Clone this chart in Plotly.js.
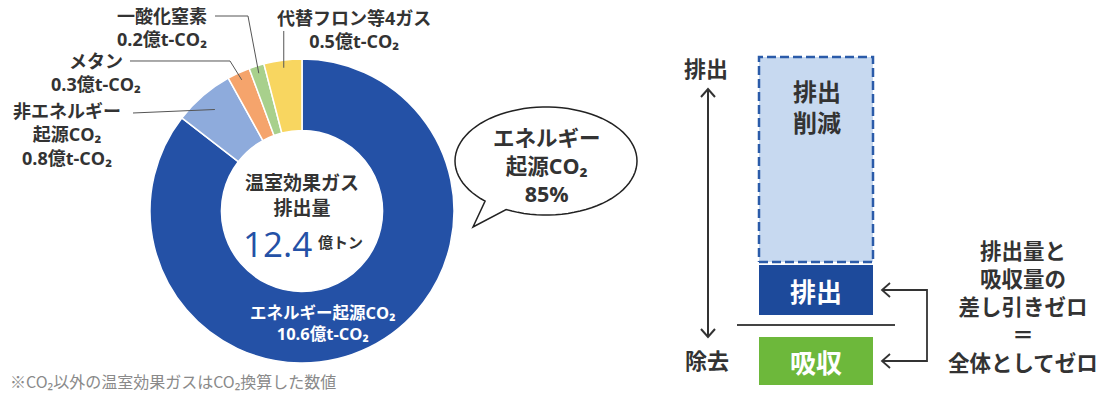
<!DOCTYPE html>
<html><head><meta charset="utf-8">
<script src="https://cdn.plot.ly/plotly-3.0.1.min.js"></script>
<style>html,body{margin:0;padding:0;background:#fff;}#chart{width:1117px;height:394px;}</style>
</head><body><div id="chart"></div>
<script>
// ---------- data ----------
const gasNames = ['エネルギー起源CO₂', '非エネルギー起源CO₂', 'メタン', '一酸化窒素', '代替フロン等4ガス'];
const gasValues = [10.6, 0.8, 0.3, 0.2, 0.5];
const unitLabel = '億t-CO₂';
const totalUnit = '億トン';
const diagramParts = ['排出削減', '排出', '吸収'];
const diagramValues = [4.1, 1.0, 0.96];
const conclusionLines = ['排出量と', '吸収量の', '差し引きゼロ', '＝', '全体としてゼロ'];
const axisEnds = ['排出', '除去'];
const footnote = '※CO₂以外の温室効果ガスはCO₂換算した数値';

// ---------- style ----------
const W = 1117, H = 394;
const FONT = '"Noto Sans CJK JP", "Noto Sans", sans-serif';
const FONT_MIX = '"Open Sans", "Noto Sans CJK JP", sans-serif';
const TXT = '#333333';
const gasColors = ['#2451a6', '#8eabdc', '#f5a46c', '#a8d08c', '#f8d660'];
const px = x => x / W, py = y => 1 - y / H;
const pt = (x, y) => px(x).toFixed(5) + ',' + py(y).toFixed(5);

const total = gasValues.reduce((a, b) => a + b, 0);
const share = Math.round(gasValues[0] / total * 100);
const fmt = v => v.toFixed(1) + unitLabel;

// pie geometry (pixels)
const CX = 302, CY = 211, R = 152;
const pie = {
  type: 'pie', values: gasValues, labels: gasNames, sort: false, direction: 'clockwise', rotation: 0,
  hole: 0.53, textinfo: 'none', hoverinfo: 'none', showlegend: false,
  marker: { colors: gasColors, line: { color: '#ffffff', width: 1.5 } },
  domain: { x: [px(CX - R), px(CX + R)], y: [py(CY + R), py(CY - R)] }
};

let cum = 0;
const mids = gasValues.map(v => { const m = (cum + v / 2) / total; cum += v; return m; });
function anchor(i, f) { const th = 2 * Math.PI * mids[i]; return [CX + f * R * Math.sin(th), CY - f * R * Math.cos(th)]; }

// right diagram
const GAP_E = 0.2, GAP_R = 0.06, GAP_A = 0.24;
const redBase = GAP_E + diagramValues[1] + GAP_R, redTop = redBase + diagramValues[0];
const emisBar = { type: 'bar', x: [0], y: [diagramValues[1]], base: [GAP_E], width: [1], marker: { color: '#1d4a9b' }, hoverinfo: 'none', showlegend: false };
const absBar = { type: 'bar', x: [0], y: [-diagramValues[2]], base: [-GAP_A], width: [1], marker: { color: '#6db83b' }, hoverinfo: 'none', showlegend: false };
const redBox = { type: 'scatter', mode: 'lines', x: [-0.5, 0.5, 0.5, -0.5, -0.5], y: [redBase, redBase, redTop, redTop, redBase],
  fill: 'toself', fillcolor: '#c7d9f0', line: { color: '#2b5ba9', width: 2.5, dash: '9px,4px' }, hoverinfo: 'none', showlegend: false };

const yPix = v => 325 - 50 * v;
const emisMid = yPix(GAP_E + diagramValues[1] / 2);
const absMid = yPix(-GAP_A - diagramValues[2] / 2);

function ann(text, x, y, size, o = {}) {
  return Object.assign({ text, x: px(x), y: py(y), xref: 'paper', yref: 'paper', showarrow: false,
    xanchor: 'center', yanchor: 'middle',
    font: { family: o.family || FONT, size, color: o.color || TXT, weight: o.weight || 700 } }, o.extra || {});
}

const annotations = [
  // donut labels
  ann(gasNames[3] + '<br>' + fmt(gasValues[3]), 162, 28, 18, { family: FONT_MIX }),
  ann(gasNames[2] + '<br>' + fmt(gasValues[2]), 96, 73, 18, { family: FONT_MIX }),
  ann('非エネルギー<br>起源CO₂<br>' + fmt(gasValues[1]), 67, 134, 18, { family: FONT_MIX }),
  ann(gasNames[4] + '<br>' + fmt(gasValues[4]), 354, 29, 18, { family: FONT_MIX }),
  ann('エネルギー起源CO₂<br>' + fmt(gasValues[0]), 322, 323, 16.5, { color: '#ffffff', family: FONT_MIX }),
  // center
  ann('温室効果ガス<br>排出量', 302, 194, 19),
  ann(total.toFixed(1), 314, 243, 35, { color: '#2451a6', weight: 500, family: FONT_MIX, extra: { xanchor: 'right' } }),
  ann(totalUnit, 316, 242, 15, { extra: { xanchor: 'left' } }),
  // bubble
  ann('エネルギー<br>起源CO₂<br>' + share + '%', 547, 165, 21.5, { family: FONT_MIX }),
  // right diagram
  ann(axisEnds[0], 706, 67, 22), ann(axisEnds[1], 707, 359, 22),
  ann(diagramParts[0].slice(0, 2) + '<br>' + diagramParts[0].slice(2), 817, 107, 24, { family: FONT_MIX }),
  ann(diagramParts[1], 816, emisMid, 26, { color: '#ffffff' }),
  ann(diagramParts[2], 816, absMid, 26, { color: '#ffffff' }),
  ann(conclusionLines.join('<br>'), 1023, 306, 21.5, { family: FONT_MIX }),
  ann(footnote, 8, 381, 16, { color: '#8a8a8a', weight: 400, extra: { xanchor: 'left' } })
];

// shapes
const line = (d, color = '#555555', width = 1) => ({ type: 'path', path: d, xref: 'paper', yref: 'paper', line: { color, width } });
const aNE = anchor(1, 0.88), aME = anchor(2, 0.95), aN2 = anchor(3, 0.95), aCF = anchor(4, 0.95);

// bubble path
const BX = 546, BY = 161, BRX = 91, BRY = 54;
let bd = '';
for (let t = 132; t <= 476; t += 4) { const a = t * Math.PI / 180; bd += (bd ? ' L' : 'M') + pt(BX + BRX * Math.cos(a), BY + BRY * Math.sin(a)); }
bd += ' L' + pt(473, 227) + ' Z';

const shapes = [
  line('M' + pt(133, 113) + ' L' + pt(aNE[0], aNE[1])),
  line('M' + pt(130, 61) + ' L' + pt(230, 61) + ' L' + pt(aME[0], aME[1])),
  line('M' + pt(215, 16) + ' L' + pt(248, 16) + ' L' + pt(aN2[0], aN2[1])),
  line('M' + pt(aCF[0], 31) + ' L' + pt(aCF[0], aCF[1])),
  { type: 'path', path: bd, xref: 'paper', yref: 'paper', fillcolor: '#ffffff', line: { color: '#222222', width: 1.5 } },
  // vertical double arrow
  line('M' + pt(708, 89) + ' L' + pt(708, 337), '#333333', 2),
  line('M' + pt(701, 97) + ' L' + pt(708, 89) + ' L' + pt(715, 97), '#333333', 2),
  line('M' + pt(701, 329) + ' L' + pt(708, 337) + ' L' + pt(715, 329), '#333333', 2),
  // baseline
  { type: 'line', xref: 'x', yref: 'y', x0: -0.693, x1: 0.693, y0: 0, y1: 0, line: { color: '#444444', width: 2 } },
  // bracket arrows
  line('M' + pt(882, emisMid) + ' L' + pt(927, emisMid) + ' L' + pt(927, absMid) + ' L' + pt(882, absMid), '#333333', 1.8),
  line('M' + pt(890, emisMid - 7) + ' L' + pt(882, emisMid) + ' L' + pt(890, emisMid + 7), '#333333', 1.8),
  line('M' + pt(890, absMid - 7) + ' L' + pt(882, absMid) + ' L' + pt(890, absMid + 7), '#333333', 1.8)
];

const layout = {
  width: W, height: H, margin: { l: 0, r: 0, t: 0, b: 0 },
  paper_bgcolor: '#ffffff', plot_bgcolor: 'rgba(0,0,0,0)', showlegend: false, barmode: 'overlay',
  xaxis: { domain: [px(702), px(930)], range: [-1, 1], visible: false, fixedrange: true },
  yaxis: { domain: [0, py(44)], range: [-1.38, 5.62], visible: false, fixedrange: true },
  annotations, shapes
};

Plotly.newPlot('chart', [pie, redBox, emisBar, absBar], layout, { displayModeBar: false, staticPlot: true });
</script></body></html>
